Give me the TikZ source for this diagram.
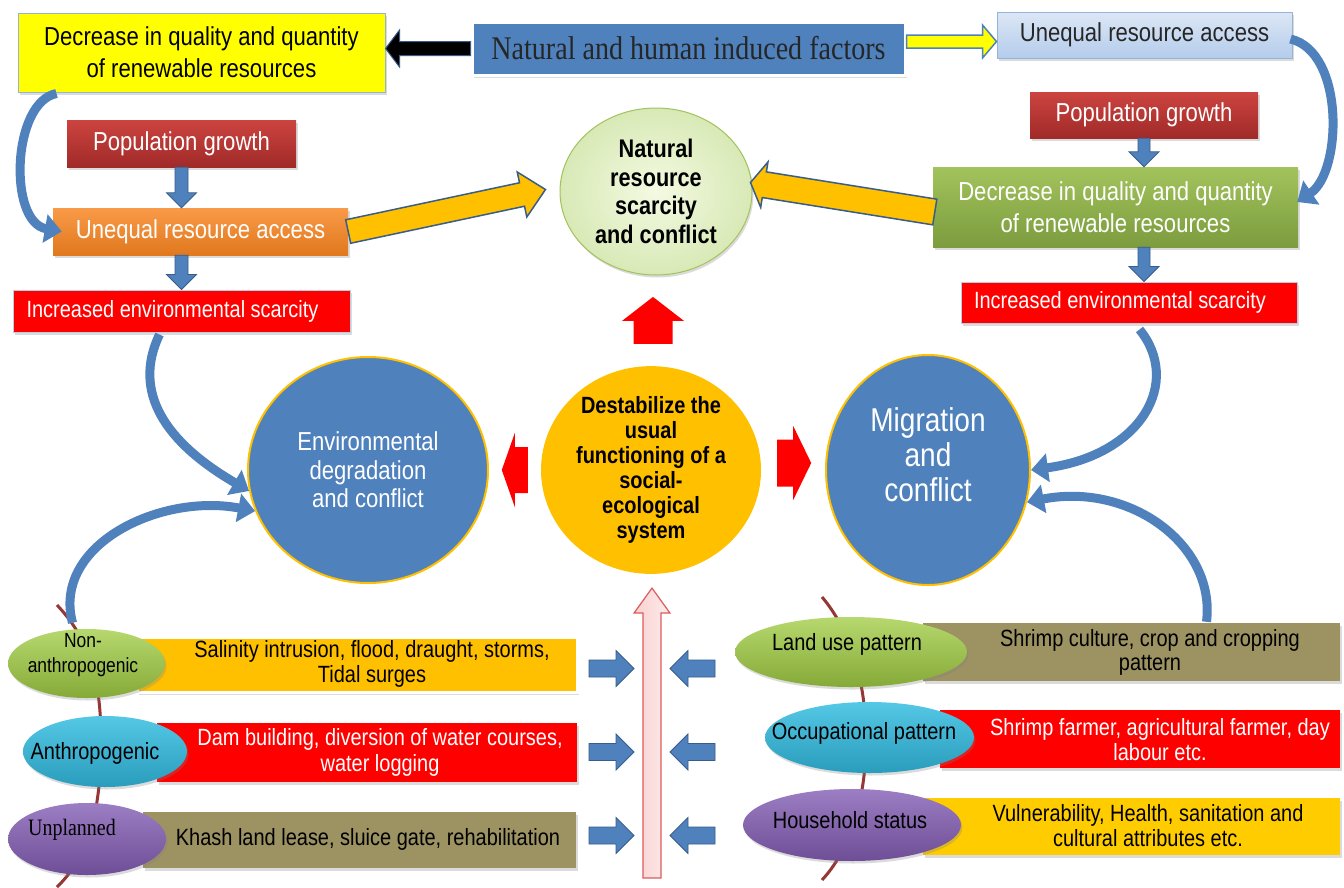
\documentclass[tikz,border=0pt]{standalone}
\usepackage{fontspec}
\setmainfont{Liberation Sans}[FakeStretch=0.85]
\newfontfamily\serifA{Liberation Serif}[FakeStretch=0.85]
\usetikzlibrary{shapes.geometric,calc,shadows,arrows.meta}
\definecolor{cBlue}{HTML}{4F81BD}
\definecolor{cBlueD}{HTML}{385D8A}
\definecolor{cYel}{HTML}{FFFF00}
\definecolor{cGold}{HTML}{FFC000}
\definecolor{cRed}{HTML}{FF0000}
\definecolor{cPopT}{HTML}{CC4440}
\definecolor{cPopB}{HTML}{A02A28}
\definecolor{cOrgT}{HTML}{F99A48}
\definecolor{cOrgB}{HTML}{E0781E}
\definecolor{cGrnT}{HTML}{A2C35C}
\definecolor{cGrnB}{HTML}{7C9C3E}
\definecolor{cLBT}{HTML}{DCE7F5}
\definecolor{cLBB}{HTML}{B4CCEC}
\definecolor{cNrsI}{HTML}{F4FAE2}
\definecolor{cNrsO}{HTML}{D8E9B6}
\definecolor{cOlive}{HTML}{9C9262}
\definecolor{cYel2}{HTML}{FFCC00}
\definecolor{cEGT}{HTML}{B6D86E}
\definecolor{cEGB}{HTML}{86AA38}
\definecolor{cECT}{HTML}{55C8E6}
\definecolor{cECB}{HTML}{2A9CBC}
\definecolor{cEPT}{HTML}{9C7EC4}
\definecolor{cEPB}{HTML}{6E4E96}
\definecolor{cBrown}{HTML}{953735}
\definecolor{cPink}{HTML}{FAD0D0}
\definecolor{cPinkD}{HTML}{DC5C5C}
\newcommand\fsz[2]{\fontsize{#1}{#2}\selectfont}
% block arrow: #1 style, #2 from, #3 to, #4 half body, #5 half head, #6 head length
\newcommand\blockarr[6]{%
  \coordinate (ba-s) at (#2);
  \coordinate (ba-e) at (#3);
  \coordinate (ba-h) at ($(ba-e)!#6!(ba-s)$);
  \path[#1] ($(ba-s)!#4!90:(ba-e)$) -- ($(ba-h)!#4!90:(ba-e)$) -- ($(ba-h)!#5!90:(ba-e)$) -- (ba-e)
    -- ($(ba-h)!#5!-90:(ba-e)$) -- ($(ba-h)!#4!-90:(ba-e)$) -- ($(ba-s)!#4!-90:(ba-e)$) -- cycle;
}
\begin{document}
\begin{tikzpicture}[x=1pt,y=-1pt,
  shad/.style={drop shadow={opacity=0.28,shadow xshift=1.5pt,shadow yshift=-2.5pt}},
  box/.style={rectangle, inner sep=0pt, align=center, shad},
  ell/.style={ellipse, inner sep=0pt, shad},
  curv/.style={draw=cBlue, line width=9pt, -{Triangle[width=28pt,length=17pt]}},
  barrow/.style={fill=cBlue, draw=cBlueD, line width=0.8pt},
  txt/.style={align=center, inner sep=0pt},
  wtxt/.style={txt, text=white},
]
\useasboundingbox (0,0) rectangle (1344,887);
\fill[white] (0,0) rectangle (1344,887);

% ---------- top row ----------
\node[box, fill=cYel, draw=cBlue!60, line width=1pt, minimum width=367pt, minimum height=79pt,
  font=\fsz{26}{32}] (yel) at (201.5,52.5) {Decrease in quality and quantity\\of renewable resources};
\node[box, fill=cBlue, draw=white, line width=3pt, minimum width=433pt, minimum height=53pt,
  font=\serifA\fsz{33}{36}, text=black!85] (nat) at (688.5,48.5) {Natural and human induced factors};
\node[box, top color=cLBT, bottom color=cLBB, draw=cBlue!60, line width=1pt, minimum width=295pt,
  minimum height=46pt, font=\fsz{26}{30}, text=black!85] (una2) at (1144.5,35) {Unequal resource access};

% ---------- left column ----------
\node[box, top color=cPopT, bottom color=cPopB, minimum width=229pt, minimum height=47pt,
  font=\fsz{26}{30}, text=white] (pop1) at (181.5,143.5) {Population growth};
\node[box, top color=cOrgT, bottom color=cOrgB, minimum width=295pt, minimum height=47pt,
  font=\fsz{26}{30}, text=white] (org) at (200.5,231.5) {Unequal resource access};
\node[box, fill=cRed, draw=cBlue!40, line width=1pt, minimum width=337pt, minimum height=42pt,
  font=\fsz{23.5}{26}, text=white] (red1) at (181.5,311) {\hspace*{-18pt}Increased environmental scarcity};

% ---------- right column ----------
\node[box, top color=cPopT, bottom color=cPopB, minimum width=228pt, minimum height=46pt,
  font=\fsz{26}{30}, text=white] (pop2) at (1144,115) {Population growth};
\node[box, top color=cGrnT, bottom color=cGrnB, minimum width=365pt, minimum height=80pt,
  font=\fsz{26}{32}, text=white] (grn) at (1115.5,207) {Decrease in quality and quantity\\of renewable resources};
\node[box, fill=cRed, draw=cBlue!40, line width=1pt, minimum width=336pt, minimum height=41pt,
  font=\fsz{23.5}{26}, text=white] (red2) at (1129,302.5) {\hspace*{-18pt}Increased environmental scarcity};

% ---------- central ellipses ----------
\node[ell, inner color=cNrsI, outer color=cNrsO, draw=cGrnT, line width=1pt, minimum width=192pt,
  minimum height=167pt, font=\bfseries\fsz{25.5}{28.7}, align=center] (nrs) at (656,191.5)
  {Natural\\resource\\scarcity\\and conflict};
\node[ellipse, inner sep=0pt, fill=cBlue, draw=cGold, line width=2pt, minimum width=240pt,
  minimum height=226pt, font=\fsz{26}{28.5}, text=white, align=center] (env) at (368,470)
  {Environmental\\degradation\\and conflict};
\node[ellipse, inner sep=0pt, fill=cGold, minimum width=220pt, minimum height=206pt,
  font=\bfseries\fsz{23.5}{25}, align=center] (dest) at (651,470)
  {Destabilize the\\usual\\functioning of a\\social-\\ecological\\system};
\node[ellipse, inner sep=0pt, fill=cBlue, draw=cGold, line width=2pt, minimum width=204pt,
  minimum height=230pt] (mig) at (928,470) {};
\node[wtxt, font=\fsz{33}{35}] (migt) at (928,455) {Migration\\and\\conflict};

% ---------- top arrows ----------
\blockarr{fill=black, draw=cBlueD, line width=1pt}{nat.west}{nat.west -| yel.east}{7pt}{18.5pt}{14pt}
\blockarr{fill=cYel, draw=cBlue, line width=1.5pt}{$(nat.east)+(0,-7)$}{$(nat.east -| una2.west)+(0,-7)$}{6.5pt}{16.5pt}{14pt}
\blockarr{fill=cGold, draw=cBlueD, line width=1.5pt}{org.east}{$(nrs.west)+(-14,-2)$}{12pt}{23pt}{24pt}
\blockarr{fill=cGold, draw=cBlueD, line width=1.5pt}{$(grn.west)+(2,5)$}{$(nrs.east)+(-2,-9)$}{13pt}{23pt}{14pt}

\blockarr{barrow}{pop1.south}{pop1.south |- org.north}{6.5pt}{15pt}{15pt}
\blockarr{barrow}{pop1.south |- org.south}{pop1.south |- red1.north}{6.5pt}{15pt}{15pt}
\blockarr{barrow}{pop2.south}{pop2.south |- grn.north}{6pt}{15pt}{15pt}
\blockarr{barrow}{pop2.south |- grn.south}{pop2.south |- red2.north}{6pt}{15pt}{15pt}

% curved arrows
\draw[curv] ($(yel.south west)+(39,1)$) .. controls (12,102) and (8,222) .. ($(org.west)+(9,0)$);
\draw[curv] ($(una2.east)+(-2,4)$) .. controls (1345,52) and (1342,172) .. ($(grn.east)+(-1,-5)$);
\draw[curv] ($(red1.south west)+(147,2)$) .. controls (132,392) and (165,442) .. (env.190);
\draw[curv] ($(red2.south west)+(179,6)$) .. controls (1182,382) and (1142,455) .. (mig.east);

% red arrows
\blockarr{fill=cRed}{$(dest.north)+(2,-22)$}{$(dest.north)+(2,-69)$}{19.5pt}{31pt}{24pt}
\blockarr{fill=cRed}{$(dest.west)+(-13,0)$}{$(dest.west)+(-39,0)$}{23pt}{37pt}{13pt}
\blockarr{fill=cRed}{$(dest.east)+(16,-7)$}{$(dest.east)+(50,-7)$}{23.5pt}{37pt}{18pt}

% ---------- bottom ----------
\draw[cBrown, line width=3pt] (57,605) .. controls (90,640) and (102,680) .. (101,750)
  .. controls (100,820) and (85,860) .. (57,887);
\draw[cBrown, line width=3pt] (822,597) .. controls (850,630) and (866,680) .. (866,740)
  .. controls (866,800) and (850,850) .. (822,880);

% left bars
\node[box, fill=cGold, draw=white, line width=3pt, minimum width=440pt, minimum height=55pt] (b1) at (357,665) {};
\node[txt, font=\fsz{23.5}{25}] (b1t) at (372,664) {Salinity intrusion, flood, draught, storms,\\Tidal surges};
\node[box, fill=cRed, minimum width=420pt, minimum height=59pt] (b2) at (367,752.5) {};
\node[wtxt, font=\fsz{23.5}{26}] (b2t) at (380,752) {Dam building, diversion of water courses,\\water logging};
\node[box, fill=cOlive, minimum width=433pt, minimum height=56pt] (b3) at (359.5,840) {};
\node[txt, font=\fsz{23.5}{26}] (b3t) at (368,839) {Khash land lease, sluice gate, rehabilitation};

% right bars
\node[box, fill=cOlive, minimum width=417pt, minimum height=58pt] (r1) at (1131.5,652) {};
\node[txt, font=\fsz{23.5}{24}] (r1t) at (1150,652) {Shrimp culture, crop and cropping\\pattern};
\node[box, fill=cRed, minimum width=400pt, minimum height=58pt] (r2) at (1140,739) {};
\node[wtxt, font=\fsz{23.5}{25}] (r2t) at (1160,739.5) {Shrimp farmer, agricultural farmer, day\\labour etc.};
\node[box, fill=cYel2, minimum width=417pt, minimum height=57pt] (r3) at (1131.5,826.5) {};
\node[txt, font=\fsz{23.5}{25}] (r3t) at (1148,825.5) {Vulnerability, Health, sanitation and\\cultural attributes etc.};

% left ellipses
\node[ell, top color=cEGT, bottom color=cEGB, minimum width=157pt, minimum height=69pt] (e1) at (86.5,663.5) {};
\node[txt, font=\fsz{20.5}{25}] (e1t) at (83,655) {Non-\\anthropogenic};
\node[ell, top color=cECT, bottom color=cECB, minimum width=164pt, minimum height=71pt] (e2) at (105,751.5) {};
\node[txt, font=\fsz{23.5}{26}] (e2t) at (95,753) {Anthropogenic};
\node[ell, top color=cEPT, bottom color=cEPB, minimum width=158pt, minimum height=72pt] (e3) at (87,839) {};
\node[txt, font=\serifA\fsz{23.5}{26}] (e3t) at (72,830) {Unplanned};

% right ellipses
\node[ell, top color=cEGT, bottom color=cEGB, minimum width=232pt, minimum height=70pt] (f1) at (851,652) {};
\node[txt, font=\fsz{23.5}{26}] (f1t) at (847,644) {Land use pattern};
\node[ell, top color=cECT, bottom color=cECB, minimum width=209pt, minimum height=71pt] (f2) at (869.5,737.5) {};
\node[txt, font=\fsz{23.5}{26}] (f2t) at (864,733) {Occupational pattern};
\node[ell, top color=cEPT, bottom color=cEPB, minimum width=218pt, minimum height=72pt] (f3) at (852,825) {};
\node[txt, font=\fsz{23.5}{26}] (f3t) at (850,820) {Household status};

% lower curved arrows
\draw[curv] ($(e1.north)+(-14,-6)$) .. controls (52,545) and (160,493) .. (env.200);
\draw[curv] ($(r1.north)+(75,-1)$) .. controls (1216,545) and (1130,482) .. (mig.-18);

% pink up arrow
\coordinate (pinkb) at (652,878);
\coordinate (pinkt) at ($(dest.south)+(1,14)$);
\blockarr{left color=cPink, right color=cPink!40, draw=cPinkD, line width=1.2pt}{pinkb}{pinkt}{9pt}{18pt}{25pt}

% small blue arrows
\coordinate (la1) at (589,668.5); \coordinate (la1t) at (634,668.5);
\coordinate (la2) at (589,752);   \coordinate (la2t) at (634,752);
\coordinate (la3) at (589,835.5); \coordinate (la3t) at (634,835.5);
\coordinate (ra1) at (715,668.5); \coordinate (ra1t) at (670,668.5);
\coordinate (ra2) at (715,752);   \coordinate (ra2t) at (670,752);
\coordinate (ra3) at (715,835.5); \coordinate (ra3t) at (670,835.5);
\blockarr{barrow}{la1}{la1t}{8.5pt}{18pt}{18pt}
\blockarr{barrow}{la2}{la2t}{8.5pt}{18pt}{18pt}
\blockarr{barrow}{la3}{la3t}{8.5pt}{18pt}{18pt}
\blockarr{barrow}{ra1}{ra1t}{8.5pt}{18pt}{18pt}
\blockarr{barrow}{ra2}{ra2t}{8.5pt}{18pt}{18pt}
\blockarr{barrow}{ra3}{ra3t}{8.5pt}{18pt}{18pt}
\end{tikzpicture}
\end{document}
